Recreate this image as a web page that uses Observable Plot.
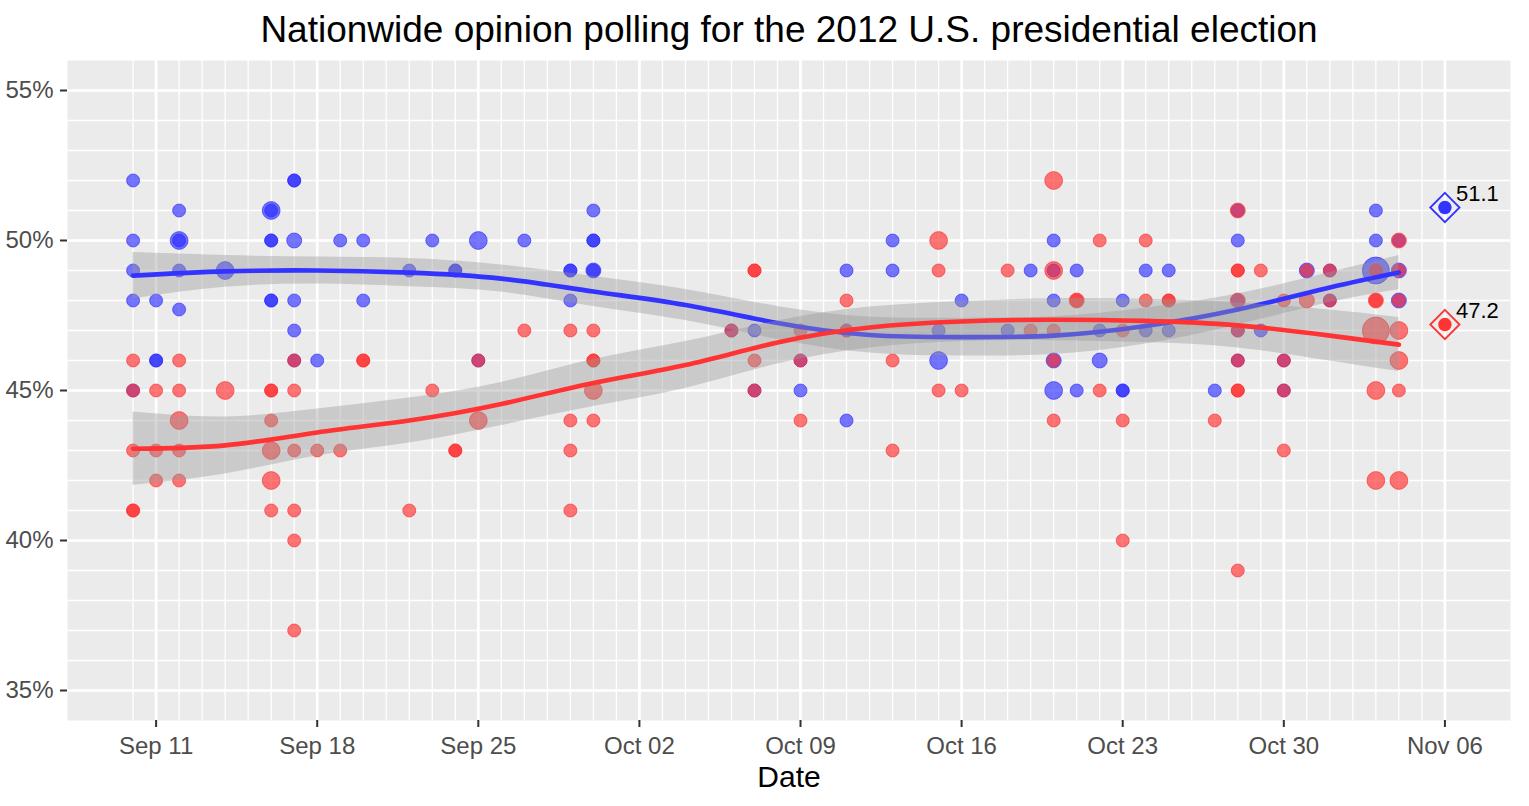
<!DOCTYPE html>
<html>
<head>
<meta charset="utf-8">
<script src="https://cdn.jsdelivr.net/npm/d3@7"></script>
<script src="https://cdn.jsdelivr.net/npm/@observablehq/plot@0.6"></script>
<style>
  html, body { margin: 0; padding: 0; background: #ffffff; }
  #chart svg { display: block; }
</style>
</head>
<body>
<div id="chart"></div>
<script>
// ---- Data ----
// Poll sample-size classes
const S = 1000, M = 1500, L = 2200, H = 4500;

// Obama (blue): [date, percent, sample size]
const obamaPolls = [
  ["2012-09-10",52,S],["2012-09-10",50,S],["2012-09-10",49,S],["2012-09-10",48,S],["2012-09-10",45,S],
  ["2012-09-11",48,S],["2012-09-11",46,S],["2012-09-11",46,S],
  ["2012-09-12",51,S],["2012-09-12",50,L],["2012-09-12",50,S],["2012-09-12",49,S],["2012-09-12",47.7,S],
  ["2012-09-14",49,L],
  ["2012-09-16",51,L],["2012-09-16",51,S],["2012-09-16",50,S],["2012-09-16",50,S],["2012-09-16",48,S],["2012-09-16",48,S],
  ["2012-09-17",52,S],["2012-09-17",52,S],["2012-09-17",50,M],["2012-09-17",48,S],["2012-09-17",47,S],["2012-09-17",46,S],
  ["2012-09-18",46,S],["2012-09-19",50,S],["2012-09-20",50,S],["2012-09-20",48,S],["2012-09-22",49,S],
  ["2012-09-23",50,S],["2012-09-24",49,S],["2012-09-24",49,S],["2012-09-25",50,L],["2012-09-25",46,S],
  ["2012-09-27",50,S],["2012-09-29",49,S],["2012-09-29",49,S],["2012-09-29",48,S],
  ["2012-09-30",51,S],["2012-09-30",50,S],["2012-09-30",50,S],["2012-09-30",49,M],["2012-09-30",49,S],
  ["2012-10-06",47,S],["2012-10-07",47,S],["2012-10-07",45,S],["2012-10-09",46,S],["2012-10-09",45,S],
  ["2012-10-11",49,S],["2012-10-11",47,S],["2012-10-11",44,S],["2012-10-13",50,S],["2012-10-13",49,S],
  ["2012-10-15",47,S],["2012-10-15",46,L],["2012-10-16",48,S],["2012-10-18",47,S],["2012-10-19",49,S],
  ["2012-10-20",50,S],["2012-10-20",49,S],["2012-10-20",48,S],["2012-10-20",46,M],["2012-10-20",45,L],
  ["2012-10-21",49,S],["2012-10-21",45,S],["2012-10-22",47,S],["2012-10-22",46,M],
  ["2012-10-23",48,S],["2012-10-23",45,S],["2012-10-23",45,S],["2012-10-24",49,S],["2012-10-24",47,S],
  ["2012-10-25",49,S],["2012-10-25",47,S],["2012-10-27",45,S],
  ["2012-10-28",51,S],["2012-10-28",50,S],["2012-10-28",48,S],["2012-10-28",47,S],["2012-10-28",46,S],
  ["2012-10-29",47,S],["2012-10-30",46,S],["2012-10-30",45,S],["2012-10-31",49,M],
  ["2012-11-01",49,S],["2012-11-01",48,S],
  ["2012-11-03",51,S],["2012-11-03",50,S],["2012-11-03",49,H],
  ["2012-11-04",50,S],["2012-11-04",49,M],["2012-11-04",48,M]
];

// Romney (red): [date, percent, sample size]
const romneyPolls = [
  ["2012-09-10",46,S],["2012-09-10",45,S],["2012-09-10",43,S],["2012-09-10",41,S],["2012-09-10",41,S],
  ["2012-09-11",45,S],["2012-09-11",43,S],["2012-09-11",42,S],
  ["2012-09-12",46,S],["2012-09-12",45,S],["2012-09-12",44,L],["2012-09-12",43,S],["2012-09-12",42,S],
  ["2012-09-14",45,L],
  ["2012-09-16",45,S],["2012-09-16",45,S],["2012-09-16",44,S],["2012-09-16",43,L],["2012-09-16",42,L],["2012-09-16",41,S],
  ["2012-09-17",46,S],["2012-09-17",45,S],["2012-09-17",43,S],["2012-09-17",41,S],["2012-09-17",40,S],["2012-09-17",37,S],
  ["2012-09-18",43,S],["2012-09-19",43,S],["2012-09-20",46,S],["2012-09-20",46,S],["2012-09-22",41,S],
  ["2012-09-23",45,S],["2012-09-24",43,S],["2012-09-24",43,S],["2012-09-25",46,S],["2012-09-25",44,L],
  ["2012-09-27",47,S],["2012-09-29",47,S],["2012-09-29",44,S],["2012-09-29",43,S],["2012-09-29",41,S],
  ["2012-09-30",47,S],["2012-09-30",46,S],["2012-09-30",46,S],["2012-09-30",45,L],["2012-09-30",44,S],
  ["2012-10-06",47,S],["2012-10-07",49,S],["2012-10-07",49,S],["2012-10-07",46,S],["2012-10-07",45,S],
  ["2012-10-09",47,S],["2012-10-09",46,S],["2012-10-09",44,S],["2012-10-11",48,S],["2012-10-11",47,S],
  ["2012-10-13",46,S],["2012-10-13",43,S],["2012-10-15",50,L],["2012-10-15",49,S],["2012-10-15",45,S],
  ["2012-10-16",45,S],["2012-10-18",49,S],["2012-10-19",47,S],
  ["2012-10-20",52,L],["2012-10-20",49,L],["2012-10-20",47,S],["2012-10-20",46,S],["2012-10-20",44,S],
  ["2012-10-21",48,M],["2012-10-21",48,S],["2012-10-22",50,S],["2012-10-22",45,S],
  ["2012-10-23",47,S],["2012-10-23",44,S],["2012-10-23",40,S],["2012-10-24",50,S],["2012-10-24",48,S],
  ["2012-10-25",48,S],["2012-10-25",48,S],["2012-10-27",44,S],
  ["2012-10-28",51,M],["2012-10-28",49,S],["2012-10-28",49,S],["2012-10-28",48,M],["2012-10-28",47,S],
  ["2012-10-28",46,S],["2012-10-28",45,S],["2012-10-28",45,S],["2012-10-28",39,S],
  ["2012-10-29",49,S],["2012-10-30",48,S],["2012-10-30",46,S],["2012-10-30",45,S],["2012-10-30",43,S],
  ["2012-10-31",49,S],["2012-10-31",48,M],["2012-11-01",49,S],["2012-11-01",48,S],
  ["2012-11-03",49,S],["2012-11-03",48,S],["2012-11-03",48,M],["2012-11-03",47,H],["2012-11-03",45,L],["2012-11-03",42,L],
  ["2012-11-04",50,M],["2012-11-04",49,S],["2012-11-04",48,S],["2012-11-04",47,L],["2012-11-04",46,L],["2012-11-04",45,S],["2012-11-04",42,L]
];

// Smoothed trend and confidence band
const smoothDates = ["2012-09-10","2012-09-14","2012-09-18","2012-09-22","2012-09-26","2012-09-30","2012-10-04",
                     "2012-10-08","2012-10-12","2012-10-16","2012-10-20","2012-10-24","2012-10-28","2012-11-01","2012-11-04"];
const obamaFit = [48.83,48.97,49.00,48.93,48.73,48.30,47.85,47.25,46.85,46.78,46.83,47.15,47.70,48.43,48.93];
const obamaLo  = [48.06,48.44,48.55,48.46,48.28,47.80,47.33,46.70,46.25,46.15,46.20,46.55,47.18,47.93,48.36];
const obamaHi  = [49.60,49.50,49.45,49.40,49.18,48.80,48.37,47.80,47.45,47.41,47.46,47.75,48.22,48.93,49.50];
const romneyFit = [43.06,43.17,43.60,44.00,44.55,45.25,45.85,46.60,47.10,47.30,47.36,47.32,47.17,46.83,46.53];
const romneyLo  = [41.84,42.22,42.82,43.25,43.83,44.47,45.07,45.88,46.42,46.63,46.66,46.60,46.42,45.98,45.63];
const romneyHi  = [44.28,44.12,44.38,44.75,45.27,46.03,46.63,47.32,47.78,47.97,48.06,48.04,47.92,47.68,47.43];

// Election result
const resultDate = "2012-11-06";
const resultCandidates = ["Obama", "Romney"];
const resultValues = [51.1, 47.2];

// Axis ticks
const xTickDates = ["2012-09-11","2012-09-18","2012-09-25","2012-10-02","2012-10-09","2012-10-16","2012-10-23","2012-10-30","2012-11-06"];
const yTicks = [35, 40, 45, 50, 55];

// ---- Build tables ----
const parse = s => new Date(s + "T00:00:00Z");
const obama = obamaPolls.map(([d, v, n]) => ({date: parse(d), pct: v, n}));
const romney = romneyPolls.map(([d, v, n]) => ({date: parse(d), pct: v, n}));
const obamaSmooth = smoothDates.map((d, i) => ({date: parse(d), fit: obamaFit[i], lo: obamaLo[i], hi: obamaHi[i]}));
const romneySmooth = smoothDates.map((d, i) => ({date: parse(d), fit: romneyFit[i], lo: romneyLo[i], hi: romneyHi[i]}));
const results = resultCandidates.map((c, i) => ({cand: c, date: parse(resultDate), pct: resultValues[i]}));
const xTicks = xTickDates.map(parse);

const BLUE = "#2a2aff", RED = "#ff2a2a";
const BLUE_LINE = "#3333ff", RED_LINE = "#ff3333";

// grid
const firstDay = parse("2012-09-10"), lastDay = parse("2012-11-06");
const minorDays = d3.utcDay.range(firstDay, d3.utcDay.offset(lastDay, 1));
const minorY = d3.range(35, 56);

// x domain with 5% expansion of data range
const span = lastDay - firstDay;
const xDomain = [new Date(+firstDay - 0.05 * span), new Date(+lastDay + 0.05 * span)];

const chart = Plot.plot({
  width: 1529,
  height: 806,
  marginTop: 60,
  marginBottom: 86,
  marginLeft: 67,
  marginRight: 19,
  style: {fontFamily: "'Liberation Sans', Arial, Helvetica, sans-serif", background: "#ffffff", overflow: "visible"},
  x: {type: "utc", domain: xDomain, label: null},
  y: {domain: [34, 56], label: null},
  r: {type: "linear", domain: [0, 4500], range: [4.5, 13.5]},
  marks: [
    Plot.frame({fill: "#EBEBEB", stroke: "none"}),
    Plot.ruleX(minorDays, {x: d => d, stroke: "#ffffff", strokeWidth: 1.3}),
    Plot.ruleY(minorY, {y: d => d, stroke: "#ffffff", strokeWidth: 1.3}),
    Plot.ruleX(xTicks, {x: d => d, stroke: "#ffffff", strokeWidth: 2.7}),
    Plot.ruleY(yTicks, {y: d => d, stroke: "#ffffff", strokeWidth: 2.7}),

    Plot.dot(obama, {x: "date", y: "pct", r: "n", fill: BLUE, fillOpacity: 0.64, stroke: BLUE, strokeOpacity: 0.64, strokeWidth: 1}),
    Plot.dot(romney, {x: "date", y: "pct", r: "n", fill: RED, fillOpacity: 0.64, stroke: RED, strokeOpacity: 0.64, strokeWidth: 1}),

    Plot.areaY(obamaSmooth, {x: "date", y1: "lo", y2: "hi", fill: "#999999", fillOpacity: 0.4, curve: "natural"}),
    Plot.lineY(obamaSmooth, {x: "date", y: "fit", stroke: BLUE_LINE, strokeWidth: 4.6, curve: "natural"}),
    Plot.areaY(romneySmooth, {x: "date", y1: "lo", y2: "hi", fill: "#999999", fillOpacity: 0.4, curve: "natural"}),
    Plot.lineY(romneySmooth, {x: "date", y: "fit", stroke: RED_LINE, strokeWidth: 4.6, curve: "natural"}),

    Plot.dot(results, {x: "date", y: "pct", symbol: "diamond2", r: 13.2, fill: "none", stroke: d => d.cand === "Obama" ? BLUE_LINE : RED_LINE, strokeWidth: 1.8}),
    Plot.dot(results, {x: "date", y: "pct", r: 6.7, fill: d => d.cand === "Obama" ? BLUE_LINE : RED_LINE, stroke: "none"}),
    Plot.text(results, {x: "date", y: "pct", text: d => d.pct.toFixed(1), dx: 11, dy: -14, textAnchor: "start", lineAnchor: "middle", fontSize: 22, fill: "#000000"}),

    Plot.axisX({ticks: xTicks, tickFormat: d3.utcFormat("%b %d"), fontSize: 24, tickSize: 7, tickPadding: 9, stroke: "#333333", fill: "#4D4D4D", strokeWidth: 2, label: null}),
    Plot.axisY({ticks: yTicks, tickFormat: d => d + "%", fontSize: 24, tickSize: 7, tickPadding: 7, stroke: "#333333", fill: "#4D4D4D", strokeWidth: 2, label: null}),

    Plot.text(["Nationwide opinion polling for the 2012 U.S. presidential election"], {frameAnchor: "top", dy: -30, lineAnchor: "middle", fontSize: 37, fill: "#000000"}),
    Plot.text(["Date"], {frameAnchor: "bottom", dy: 57, lineAnchor: "middle", fontSize: 30, fill: "#000000"})
  ]
});

document.getElementById("chart").appendChild(chart);
</script>
</body>
</html>
